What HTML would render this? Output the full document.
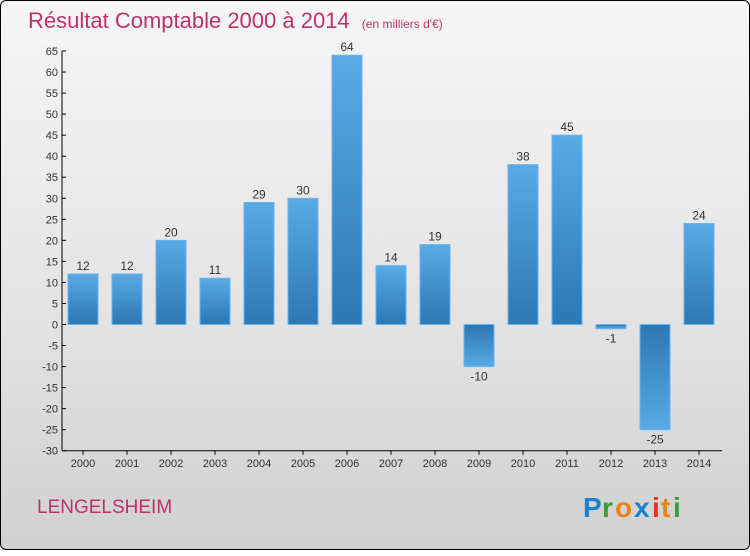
<!DOCTYPE html>
<html><head><meta charset="utf-8"><style>
body{margin:0;width:750px;height:550px;overflow:hidden;font-family:"Liberation Sans","DejaVu Sans",sans-serif}
#frame{position:absolute;left:0;top:0;width:748px;height:548px;border:1px solid #000;border-radius:6px;background:linear-gradient(#f6f6f6,#e2e2e2 60%,#d0d0d0)}
</style></head><body>
<div id="frame">
<svg id="chart" width="750" height="550">
<defs>
<linearGradient id="gp" x1="0" y1="0" x2="0" y2="1"><stop offset="0" stop-color="#5aaae6"/><stop offset="1" stop-color="#2a78b6"/></linearGradient>
<linearGradient id="gn" x1="0" y1="0" x2="0" y2="1"><stop offset="0" stop-color="#2a78b6"/><stop offset="1" stop-color="#5aaae6"/></linearGradient>
</defs>
<text x="27" y="27" font-size="22" fill="#c0306a">Résultat Comptable 2000 à 2014 <tspan font-size="12" dx="6">(en milliers d'€)</tspan></text>
<g id="yaxis"></g>
<g id="xaxis"></g>
<g id="bars"></g>
<text x="36" y="512" font-size="19" fill="#c0306a">LENGELSHEIM</text>
<g font-size="28" font-weight="bold" font-family="'Liberation Sans',sans-serif">
<text x="582" y="516" fill="#1a7fd0">P</text><text x="601" y="516" fill="#3a9a3a">r</text><text x="614" y="516" fill="#f08010">o</text><text x="633" y="516" fill="#1a7fd0">x</text><text x="651" y="516" fill="#e83020">i</text><text x="660" y="516" fill="#f08010">t</text><text x="672" y="516" fill="#3a9a3a">i</text>
</g>
</svg></div>
<script>
const years=["2000","2001","2002","2003","2004","2005","2006","2007","2008","2009","2010","2011","2012","2013","2014"];
const values=[12,12,20,11,29,30,64,14,19,-10,38,45,-1,-25,24];
const yTicks=[65,60,55,50,45,40,35,30,25,20,15,10,5,0,-5,-10,-15,-20,-25,-30];
const NS="http://www.w3.org/2000/svg";
const y0=323.5,k=273.5/65;
function y(v){return y0-v*k;}
function x(i){return 82+i*44;}
function mk(t,a,p){const e=document.createElementNS(NS,t);for(const n in a)e.setAttribute(n,a[n]);p.appendChild(e);return e;}
const ya=document.getElementById('yaxis'),xa=document.getElementById('xaxis'),bg=document.getElementById('bars');
mk('line',{x1:61,y1:y(65),x2:61,y2:y(-30),stroke:'#000'},ya);
yTicks.forEach(v=>{mk('line',{x1:61,y1:y(v),x2:65,y2:y(v),stroke:'#000'},ya);
const t=mk('text',{x:57,y:y(v)+4,'text-anchor':'end','font-size':11,fill:'#333'},ya);t.textContent=v;

});
mk('line',{x1:61,y1:y(-30),x2:721,y2:y(-30),stroke:'#000'},xa);
years.forEach((yr,i)=>{mk('line',{x1:x(i),y1:y(-30),x2:x(i),y2:y(-30)+4,stroke:'#000'},xa);
const t=mk('text',{x:x(i),y:466,'text-anchor':'middle','font-size':11,fill:'#333'},xa);t.textContent=yr;

});
values.forEach((v,i)=>{const top=Math.min(y(v),y0),h=Math.abs(y(v)-y0);
const r=mk('rect',{x:x(i)-15,y:top,width:30,height:Math.max(h,1),fill:v>=0?'url(#gp)':'url(#gn)',stroke:'#6ab4ea','stroke-width':1},bg);


const t=mk('text',{x:x(i),y:v>=0?y(v)-4:y(v)+14,'text-anchor':'middle','font-size':12,fill:'#333'},bg);t.textContent=v;

});
</script>
</body></html>
